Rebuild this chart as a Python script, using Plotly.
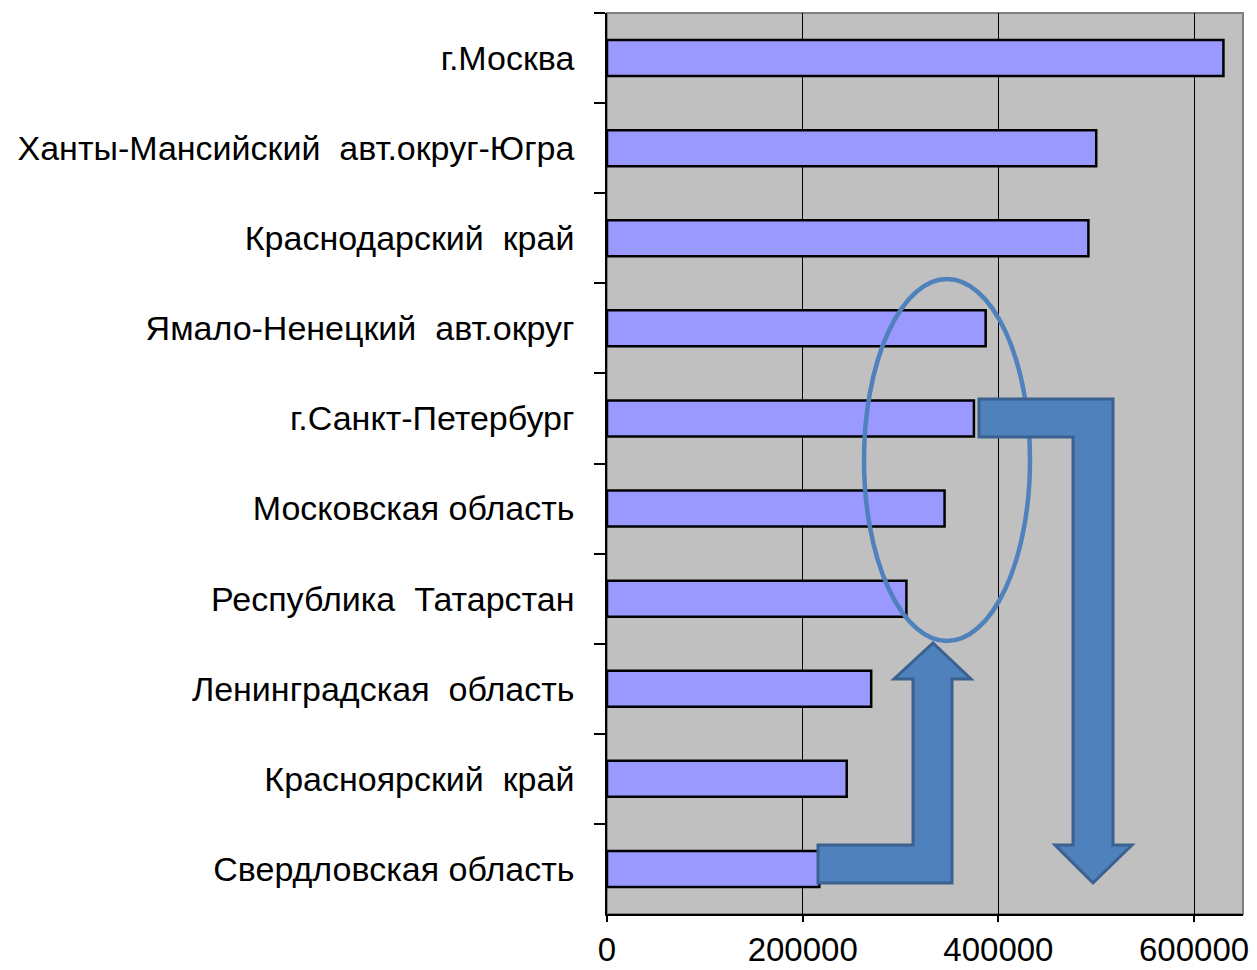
import plotly.graph_objects as go

# Data (top to bottom as in the picture)
regions = [
    "г.Москва",
    "Ханты-Мансийский\u00a0 авт.округ-Югра",
    "Краснодарский\u00a0 край",
    "Ямало-Ненецкий\u00a0 авт.округ",
    "г.Санкт-Петербург",
    "Московская область",
    "Республика\u00a0 Татарстан",
    "Ленинградская\u00a0 область",
    "Красноярский\u00a0 край",
    "Свердловская область",
]
values = [630000, 500000, 492000, 387000, 375000, 345000, 306000, 270000, 245000, 217000]
x_tick_vals = [0, 200000, 400000, 600000]
x_tick_text = ["0", "200000", "400000", "600000"]

W, H = 1257, 970
L, R, T, B = 607, 1243, 13, 914


def px(xp):
    return (xp - L) / (R - L)


def py(yp):
    return (B - yp) / (B - T)


def path(points):
    s = "M " + " L ".join(f"{px(a):.5f},{py(b):.5f}" for a, b in points) + " Z"
    return s


fig = go.Figure(
    go.Bar(
        x=values,
        y=regions,
        orientation="h",
        marker=dict(color="#9999FF", line=dict(color="black", width=2.5)),
        hoverinfo="x+y",
    )
)

arrow_fill = "#4F81BD"
arrow_line = "#3A6190"

arrow1 = [(818, 845), (913, 845), (913, 679), (894, 679), (933, 643), (971, 679),
          (952, 679), (952, 883), (818, 883)]
arrow2 = [(979, 399), (1113, 399), (1113, 845), (1132, 845), (1093, 883), (1055, 845),
          (1073, 845), (1073, 437), (979, 437)]

shapes = [
    dict(type="rect", xref="paper", yref="paper", x0=0, x1=1, y0=0, y1=1,
         line=dict(color="#808080", width=2), layer="below"),
    dict(type="circle", xref="paper", yref="paper",
         x0=px(864), x1=px(1030), y0=py(641), y1=py(279),
         line=dict(color="#4F81BD", width=4.5), layer="above"),
    dict(type="path", xref="paper", yref="paper", path=path(arrow1),
         fillcolor=arrow_fill, line=dict(color=arrow_line, width=3), layer="above"),
    dict(type="path", xref="paper", yref="paper", path=path(arrow2),
         fillcolor=arrow_fill, line=dict(color=arrow_line, width=3), layer="above"),
]

fig.update_layout(
    width=W,
    height=H,
    margin=dict(l=L, r=W - R, t=T, b=H - B, pad=0, autoexpand=False),
    paper_bgcolor="white",
    plot_bgcolor="#C0C0C0",
    bargap=0.6,
    showlegend=False,
    font=dict(family="Liberation Sans, Arial, sans-serif", size=34, color="black"),
    shapes=shapes,
)

fig.update_xaxes(
    range=[0, 650000],
    tickvals=x_tick_vals,
    ticktext=x_tick_text,
    showgrid=True,
    gridcolor="black",
    gridwidth=1,
    zeroline=False,
    showline=True,
    linecolor="black",
    linewidth=1.5,
    ticks="outside",
    ticklen=6,
    tickcolor="black",
    tickwidth=1.5,
    automargin=False,
    tickfont=dict(size=33),
)

fig.update_yaxes(
    categoryorder="array",
    categoryarray=regions,
    autorange="reversed",
    showgrid=False,
    zeroline=False,
    showline=True,
    linecolor="black",
    linewidth=1.5,
    ticks="outside",
    tickson="boundaries",
    ticklen=11,
    tickcolor="black",
    tickwidth=1.5,
    ticklabelstandoff=24,
    automargin=False,
    tickfont=dict(size=34),
)

fig.write_html(
    "out.html",
    config={"displayModeBar": False},
    post_script="document.body.style.margin='0';document.body.style.overflow='hidden';",
)
